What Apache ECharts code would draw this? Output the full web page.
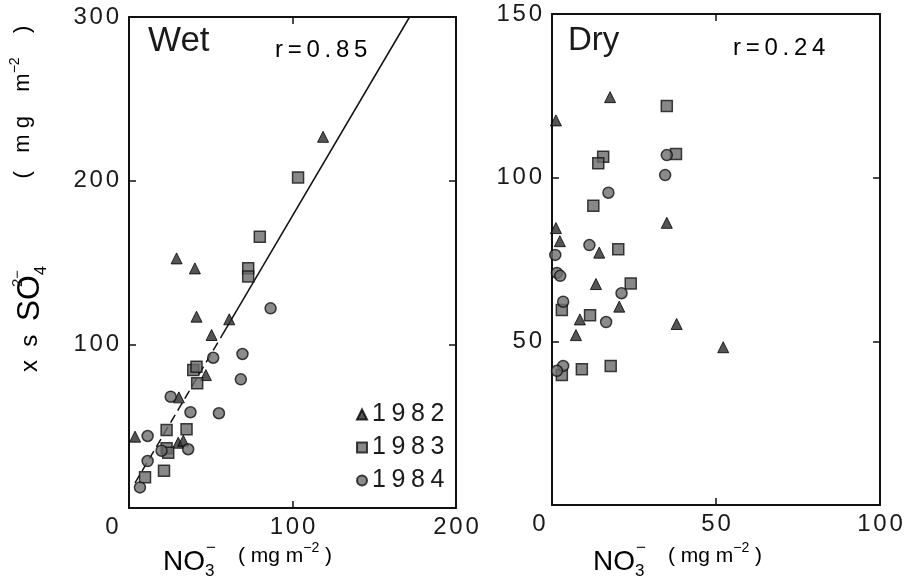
<!DOCTYPE html>
<html><head><meta charset="utf-8">
<script src="https://cdn.jsdelivr.net/npm/echarts@6/dist/echarts.min.js"></script>
<style>html,body{margin:0;padding:0;background:#fff}#c{width:910px;height:582px}</style>
</head><body><div id="c"></div>
<script>
// ---- Data (NO3- vs xs SO4 2-, mg m^-2) ----
const wet1982 = [[118.7,226.8],[29.1,152.5],[40.3,146.4],[41.3,116.9],[61.3,115.3],[50.5,105.7],[47.0,81.2],[30.5,67.6],[3.7,43.6],[30.1,39.9],[33.2,41.1]];
const wet1983 = [[103.4,202.0],[80.0,165.7],[72.9,146.5],[72.9,141.5],[39.3,84.3],[41.3,86.3],[41.7,76.2],[23.0,47.6],[35.2,48.1],[23.0,36.5],[24.0,33.8],[21.4,22.8],[9.8,18.8]];
const wet1984 = [[86.6,122.0],[69.4,94.1],[51.5,91.8],[68.4,78.6],[25.5,68.0],[37.6,58.5],[55.0,57.9],[11.4,44.0],[19.9,35.0],[36.2,35.9],[11.4,28.7],[6.7,12.6]];
const dry1982 = [[1.2,117.5],[17.7,124.6],[35.0,86.2],[1.2,84.6],[2.4,80.6],[14.4,77.1],[13.4,67.5],[20.5,60.6],[8.5,56.7],[38.0,55.3],[7.3,51.9],[52.2,48.2]];
const dry1983 = [[35.0,121.9],[15.6,106.4],[14.1,104.4],[37.8,107.2],[12.6,91.4],[20.2,78.1],[24.0,67.7],[11.6,58.0],[3.0,59.6],[9.1,41.5],[17.9,42.5],[3.0,39.7]];
const dry1984 = [[35.0,106.9],[34.5,100.8],[17.2,95.4],[11.4,79.4],[1.0,76.4],[1.5,70.9],[2.5,70.0],[21.2,64.7],[3.4,62.1],[16.5,55.9],[3.4,42.5],[1.5,41.0]];
const wetFitDashed = [[3.7,15.3],[56,104.0]];
const wetFitSolid = [[56,104.0],[171.6,300]];
const years = ['1982','1983','1984'];
const wetX = {min:0, max:200, interval:100};
const wetY = {min:0, max:300, interval:100};
const dryX = {min:0, max:100, interval:50};
const dryY = {min:0, max:150, interval:50};
const wetLabel = 'Wet', wetR = 'r=0.85';
const dryLabel = 'Dry', dryR = 'r=0.24';

// ---- Chart ----
const FONT = '"Liberation Sans", Arial, Helvetica, sans-serif';
const INK = '#1a1a1a';
// letter-spaced text through rich tokens
const spacedRich = v => String(v).split('').map(c => '{d|' + c + '}').join('{g| }');
const richSet = (d, g) => ({
  d:{fontSize:d, fontFamily:FONT, color:INK},
  g:{fontSize:g, fontFamily:FONT, color:INK},
  z:{fontSize:d, fontFamily:FONT, color:INK}
});
const lineStyle = {color:'#111', width:2};

function xAx(grid, sc, pos, zeroPad) {
  const rich = richSet(24, 10);
  rich.z.padding = [0, zeroPad, 0, 0];
  return {
    type:'value', gridIndex:grid, min:sc.min, max:sc.max, interval:sc.interval, position:pos,
    axisLine:{show:true, onZero:false, lineStyle},
    axisTick:{show:true, inside:true, length:7, lineStyle:{color:'#111', width:1.5}},
    splitLine:{show:false},
    axisLabel: pos === 'bottom' ? {
      show:true, margin:7, fontSize:24, fontFamily:FONT, color:INK,
      formatter: v => v === 0 ? '{z|0}' : spacedRich(v), rich
    } : {show:false}
  };
}
function yAx(grid, sc, pos) {
  return {
    type:'value', gridIndex:grid, min:sc.min, max:sc.max, interval:sc.interval, position:pos,
    axisLine:{show:true, onZero:false, lineStyle},
    axisTick:{show:true, inside:true, length:7, lineStyle:{color:'#111', width:1.5}},
    splitLine:{show:false},
    axisLabel: pos === 'left' ? {
      show:true, margin:10, showMinLabel:false, fontSize:24, fontFamily:FONT, color:INK,
      formatter: v => spacedRich(v), rich:richSet(24, 10)
    } : {show:false}
  };
}
const styles = {
  '1982': {symbol:'triangle', symbolSize:11, itemStyle:{color:'#2b2b2b', borderColor:'#000', borderWidth:1}},
  '1983': {symbol:'rect', symbolSize:11, itemStyle:{color:'#6a6a6a', borderColor:'#111', borderWidth:1.5}},
  '1984': {symbol:'circle', symbolSize:11, itemStyle:{color:'#6e6e6e', borderColor:'#111', borderWidth:1.5}}
};
function sc(name, data, idx) {
  return Object.assign({type:'scatter', name, data, xAxisIndex:idx, yAxisIndex:idx, z:3}, JSON.parse(JSON.stringify(styles[name])));
}
const wetAxIdx = 0, dryAxIdx = 2;

function txt(x, y, text, size, extra) {
  return {type:'text', x, y, style:Object.assign({text, fontSize:size, fontFamily:FONT, fill:INK, align:'left', verticalAlign:'middle'}, extra || {})};
}
function rtxt(x, y, value, d, g) {
  return {type:'text', x, y, style:{text:spacedRich(value), rich:richSet(d, g), align:'left', verticalAlign:'middle'}};
}
const parenRich = {
  a:{fontSize:21, fontFamily:FONT, color:INK, lineHeight:30},
  s:{fontSize:14, fontFamily:FONT, color:INK, lineHeight:14, verticalAlign:'top'}
};
const parenRichY = {
  a:{fontSize:22, fontFamily:FONT, color:INK, lineHeight:30},
  s:{fontSize:14, fontFamily:FONT, color:INK, lineHeight:14, verticalAlign:'top'}
};
const parenTextX = '{a|( mg m}{s|\u22122}{a| )}';
const parenTextY = '{a|(   m g    m}{s|\u22122}{a|    )}';
const noRich = {
  n:{fontSize:28, fontFamily:FONT, color:INK, lineHeight:36},
  b:{fontSize:17, fontFamily:FONT, color:INK, lineHeight:18, verticalAlign:'bottom'}
};

const chart = echarts.init(document.getElementById('c'), null, {renderer:'canvas'});
chart.setOption({
  animation:false,
  backgroundColor:'#fff',
  grid:[
    {left:129, top:17, width:327, height:491},
    {left:552, top:14, width:328, height:491}
  ],
  xAxis:[ xAx(0, wetX, 'bottom', 34), xAx(0, wetX, 'top', 0), xAx(1, dryX, 'bottom', 26), xAx(1, dryX, 'top', 0) ],
  yAxis:[ yAx(0, wetY, 'left'), yAx(0, wetY, 'right'), yAx(1, dryY, 'left'), yAx(1, dryY, 'right') ],
  legend:{
    data:years, orient:'vertical', left:351, top:397, itemWidth:10, itemHeight:10, itemGap:8,
    textStyle:{fontSize:25, fontFamily:FONT, color:INK, rich:richSet(25, 20)},
    formatter: n => spacedRich(n), selectedMode:false
  },
  series:[
    sc('1982', wet1982, wetAxIdx), sc('1983', wet1983, wetAxIdx), sc('1984', wet1984, wetAxIdx),
    sc('1982', dry1982, dryAxIdx), sc('1983', dry1983, dryAxIdx), sc('1984', dry1984, dryAxIdx),
    {type:'line', data:wetFitDashed, xAxisIndex:0, yAxisIndex:0, symbol:'none', silent:true, z:2,
     lineStyle:{color:'#111', width:1.5, type:[9,5]}},
    {type:'line', data:wetFitSolid, xAxisIndex:0, yAxisIndex:0, symbol:'none', silent:true, z:2,
     lineStyle:{color:'#111', width:1.5}}
  ],
  graphic:[
    txt(148, 41, wetLabel, 35),
    rtxt(275, 50, wetR, 24, 17),
    txt(568, 41, dryLabel, 33),
    rtxt(733, 48, dryR, 24, 17),
    // x-axis titles
    {type:'text', x:163, y:562, style:{text:'{n|NO}{b|3}', rich:noRich, align:'left', verticalAlign:'middle'}},
    txt(206, 548, '\u2212', 17),
    {type:'text', x:238, y:556, style:{text:parenTextX, rich:parenRich, align:'left', verticalAlign:'middle'}},
    {type:'text', x:593, y:562, style:{text:'{n|NO}{b|3}', rich:noRich, align:'left', verticalAlign:'middle'}},
    txt(636, 548, '\u2212', 17),
    {type:'text', x:668, y:556, style:{text:parenTextX, rich:parenRich, align:'left', verticalAlign:'middle'}},
    // y-axis title (rotated)
    {type:'text', x:30, y:372, rotation:Math.PI/2, style:{
      text:'{a|x  s  }{b|SO}{c|4}', align:'left', verticalAlign:'middle',
      rich:{a:{fontSize:24, fontFamily:FONT, color:INK, lineHeight:40},
            b:{fontSize:32, fontFamily:FONT, color:INK, lineHeight:40},
            c:{fontSize:16, fontFamily:FONT, color:INK, lineHeight:20, verticalAlign:'bottom'}}}},
    {type:'text', x:18, y:287, rotation:Math.PI/2, style:{text:'2\u2212', fontSize:15, fontFamily:FONT, fill:INK, align:'left', verticalAlign:'middle'}},
    {type:'text', x:23, y:102, rotation:Math.PI/2, style:{text:parenTextY, rich:parenRichY, align:'center', verticalAlign:'middle'}}
  ]
});
</script></body></html>
